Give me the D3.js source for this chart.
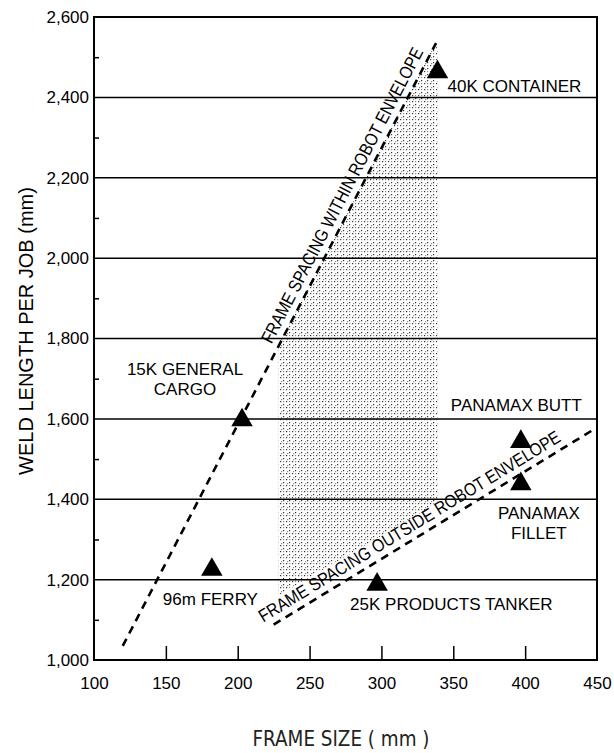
<!DOCTYPE html>
<html>
<head>
<meta charset="utf-8">
<script src="https://cdn.jsdelivr.net/npm/d3@7/dist/d3.min.js"></script>
<style>
  body { margin: 0; background: #fff; }
  svg { display: block; font-family: Arial, "Liberation Sans", Helvetica, sans-serif; }
</style>
</head>
<body>
<svg id="chart" width="614" height="753"></svg>
<script>
// ship types: frame size (mm) vs weld length per job (mm)
const ship_names = ["40K CONTAINER", "15K GENERAL CARGO", "PANAMAX BUTT", "PANAMAX FILLET", "96m FERRY", "25K PRODUCTS TANKER"];
const frame_sizes = [339, 203, 397, 397, 182, 297];
const weld_lengths = [2463, 1597, 1543, 1438, 1225, 1188];

const x_ticks = [100, 150, 200, 250, 300, 350, 400, 450];
const y_ticks = [1000, 1200, 1400, 1600, 1800, 2000, 2200, 2400, 2600];
const y_minor_ticks = [1100, 1300, 1500, 1700, 1900, 2100, 2300, 2500];

// dashed boundaries, [frame size, weld length] end points
const within_envelope = [[120, 1035], [338, 2535]];
const outside_envelope = [[225, 1088], [447, 1572]];
const within_label = "FRAME SPACING WITHIN ROBOT ENVELOPE";
const outside_label = "FRAME SPACING OUTSIDE ROBOT ENVELOPE";

// stippled band between the two boundaries
const stipple_region = [[228, 1160], [228, 1782], [336, 2525], [339, 2525], [339, 1390]];

const margin = {top: 17, right: 17, bottom: 93, left: 94};
const width = 614 - margin.left - margin.right;
const height = 753 - margin.top - margin.bottom;

const svg = d3.select("#chart");
const g = svg.append("g").attr("transform", "translate(" + margin.left + "," + margin.top + ")");

const x = d3.scaleLinear().domain([100, 450]).range([0, width]);
const y = d3.scaleLinear().domain([1000, 2600]).range([height, 0]);

//stipple texture
const defs = svg.append("defs");
const pat = defs.append("pattern")
  .attr("id", "stipple")
  .attr("patternUnits", "userSpaceOnUse")
  .attr("width", 6).attr("height", 6);
[[0, 0], [3, 3], [3, 0], [1, 4]].forEach(function(p, i) {
  pat.append("rect").attr("x", p[0]).attr("y", p[1])
    .attr("width", 1.2).attr("height", 1.2)
    .attr("fill", i < 2 ? "#333" : "#888");
});

g.append("path")
  .datum(stipple_region)
  .attr("d", d3.line().x(d => x(d[0])).y(d => y(d[1])).curve(d3.curveLinearClosed))
  .attr("fill", "url(#stipple)");

//horizontal grid lines
g.append("g").selectAll("line")
  .data(y_ticks.slice(1, -1))
  .join("line")
  .attr("x1", 0).attr("x2", width)
  .attr("y1", d => y(d)).attr("y2", d => y(d))
  .attr("stroke", "#000").attr("stroke-width", 1.5);

//axes
const x_axis = g.append("g")
  .attr("transform", "translate(0," + height + ")")
  .call(d3.axisBottom(x).tickValues(x_ticks).tickSize(-14).tickPadding(17).tickFormat(d3.format("d")));

const y_axis = g.append("g")
  .call(d3.axisLeft(y).tickValues(y_ticks).tickSize(0).tickPadding(5).tickFormat(d3.format(",")));

const y_minor = g.append("g")
  .call(d3.axisLeft(y).tickValues(y_minor_ticks).tickSize(-5).tickFormat(""));

[x_axis, y_axis, y_minor].forEach(function(a) {
  a.select(".domain").remove();
  a.selectAll("line").attr("stroke", "#000").attr("stroke-width", 1.5);
  a.selectAll("text").attr("font-size", 17).attr("fill", "#000")
    .attr("font-family", "Arial, 'Liberation Sans', sans-serif");
});
x_axis.selectAll(".tick").filter(d => d === 100 || d === 450).select("line").remove();

//frame
g.append("rect")
  .attr("width", width).attr("height", height)
  .attr("fill", "none").attr("stroke", "#000").attr("stroke-width", 2);

//dashed line with text running along it
function draw_boundary(ends, label, start_offset, label_length) {
  const p0 = {x: x(ends[0][0]), y: y(ends[0][1])};
  const p1 = {x: x(ends[1][0]), y: y(ends[1][1])};
  const dx = p1.x - p0.x, dy = p1.y - p0.y;
  const len = Math.sqrt(dx * dx + dy * dy);
  const angle = Math.atan2(dy, dx) * 180 / Math.PI;

  g.append("line")
    .attr("x1", p0.x).attr("y1", p0.y).attr("x2", p1.x).attr("y2", p1.y)
    .attr("stroke", "#000").attr("stroke-width", 2.6)
    .attr("stroke-dasharray", "8,6");

  const sx = p0.x + dx / len * start_offset;
  const sy = p0.y + dy / len * start_offset;
  g.append("text")
    .attr("transform", "translate(" + sx + "," + sy + ") rotate(" + angle + ")")
    .attr("y", -7)
    .attr("font-size", 18)
    .attr("textLength", label_length)
    .attr("lengthAdjust", "spacingAndGlyphs")
    .text(label);
}

draw_boundary(within_envelope, within_label, 336, 330);
draw_boundary(outside_envelope, outside_label, -8, 350);

//ship markers
const ships = ship_names.map((n, i) => ({name: n, fx: frame_sizes[i], wl: weld_lengths[i]}));

g.append("g").selectAll("path")
  .data(ships)
  .join("path")
  .attr("transform", d => "translate(" + x(d.fx) + "," + y(d.wl) + ")")
  .attr("d", d3.symbol(d3.symbolTriangle, 200))
  .attr("fill", "#000");

//label placement relative to each marker: [dx, dy, anchor, lines]
const label_layout = {
  "40K CONTAINER": [10, 20, "start", ["40K CONTAINER"]],
  "15K GENERAL CARGO": [-57, -45, "middle", ["15K GENERAL", "CARGO"]],
  "PANAMAX BUTT": [61, -31, "end", ["PANAMAX BUTT"]],
  "PANAMAX FILLET": [18, 35, "middle", ["PANAMAX", "FILLET"]],
  "96m FERRY": [-49, 35, "start", ["96m FERRY"]],
  "25K PRODUCTS TANKER": [-27, 26, "start", ["25K PRODUCTS TANKER"]]
};

ships.forEach(function(d) {
  const l = label_layout[d.name];
  const t = g.append("text")
    .attr("x", x(d.fx) + l[0])
    .attr("y", y(d.wl) + l[1])
    .attr("text-anchor", l[2])
    .attr("font-size", 17);
  l[3].forEach(function(line, i) {
    t.append("tspan").attr("x", x(d.fx) + l[0]).attr("dy", i === 0 ? 0 : 20).text(line);
  });
});

//axis titles
svg.append("text")
  .attr("transform", "translate(33,331) rotate(-90)")
  .attr("text-anchor", "middle")
  .attr("font-size", 20)
  .text("WELD LENGTH PER JOB (mm)");

svg.append("text")
  .attr("x", 341).attr("y", 746)
  .attr("text-anchor", "middle")
  .attr("font-size", 21)
  .attr("fill", "#222")
  .attr("font-family", "'DejaVu Sans', sans-serif")
  .attr("textLength", 177)
  .attr("lengthAdjust", "spacingAndGlyphs")
  .text("FRAME SIZE ( mm )");
</script>
</body>
</html>
